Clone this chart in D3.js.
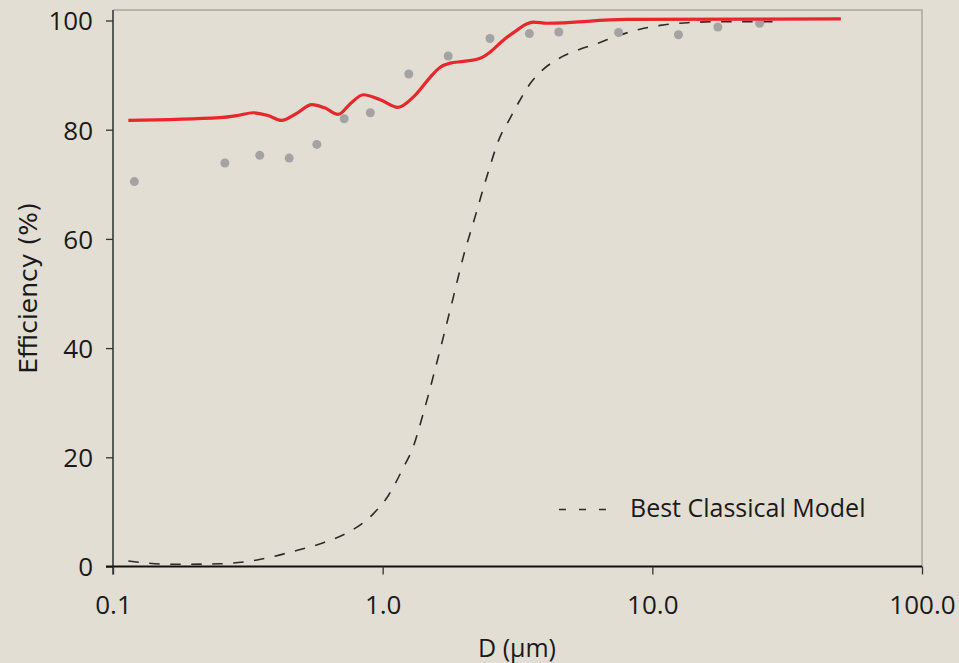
<!DOCTYPE html>
<html><head><meta charset="utf-8">
<script src="https://cdn.jsdelivr.net/npm/d3@7"></script>
<style>
html,body{margin:0;padding:0;background:#e3ded3;}
svg{display:block;}
</style></head>
<body>
<svg id="chart" width="959" height="663"></svg>
<script>
// Measured data (D in µm, efficiency in %)
const measuredD   = [0.12, 0.26, 0.35, 0.45, 0.57, 0.72, 0.9, 1.25, 1.75, 2.5, 3.5, 4.5, 7.5, 12.5, 17.5, 25];
const measuredEff = [70.5, 73.9, 75.3, 74.8, 77.3, 82.0, 83.1, 90.2, 93.5, 96.7, 97.6, 97.9, 97.8, 97.4, 98.8, 99.5];

// Fitted model (red line)
const modelD   = [0.114, 0.249, 0.29, 0.331, 0.375, 0.422, 0.48, 0.546, 0.61, 0.684, 0.76, 0.847, 0.98, 1.14, 1.30, 1.50, 1.63, 1.78, 1.99, 2.30, 2.50, 2.80, 3.14, 3.40, 3.62, 4.07, 7.98, 50];
const modelEff = [81.7, 82.2, 82.6, 83.1, 82.6, 81.7, 83.0, 84.6, 84.0, 82.8, 84.8, 86.4, 85.5, 84.1, 86.0, 89.6, 91.4, 92.2, 92.5, 93.1, 94.2, 96.4, 98.2, 99.3, 99.7, 99.5, 100.2, 100.3];

// Best classical model (dashed line)
const classicD   = [0.114, 0.164, 0.249, 0.342, 0.468, 0.606, 0.748, 0.921, 1.05, 1.19, 1.30, 1.41, 1.54, 1.68, 1.83, 1.99, 2.20, 2.43, 2.72, 2.94, 3.22, 3.52, 3.95, 4.45, 5.30, 6.33, 7.55, 9.0, 10.7, 13.5, 19.3, 27.9];
const classicEff = [1.0, 0.4, 0.5, 1.2, 2.8, 4.4, 6.3, 9.6, 13.0, 18.0, 22.0, 27.8, 34.8, 42.1, 49.4, 56.7, 64.0, 71.3, 78.6, 81.7, 85.3, 88.4, 91.1, 92.9, 94.6, 95.9, 97.3, 98.4, 99.1, 99.6, 99.8, 99.8];

const xTicks = [0.1, 1, 10, 100];
const yTicks = [0, 20, 40, 60, 80, 100];
const xLabel = "D (μm)";
const yLabel = "Efficiency (%)";
const legendLabel = "Best Classical Model";

const svg = d3.select("#chart");
const pLeft = 113, pRight = 922, pTop = 10, pBottom = 566.5;
const x = d3.scaleLog().domain([0.1, 100]).range([pLeft, pRight]);
const y = d3.scaleLinear().domain([0, 100]).range([pBottom, 20.5]);
const FONT = "Open Sans";

svg.append("rect").attr("width", 959).attr("height", 663).attr("fill", "#e3ded3");

// frame (top and right borders)
svg.append("path")
  .attr("d", `M${pLeft},${pTop}H${pRight}V${pBottom}`)
  .attr("fill", "none").attr("stroke", "#a9a6a0").attr("stroke-width", 1.5);

// y axis
const yAxis = svg.append("g").attr("transform", `translate(${pLeft},0)`)
  .call(d3.axisLeft(y).tickValues(yTicks).tickSize(7).tickSizeOuter(0).tickPadding(13).tickFormat(d3.format("d")));
yAxis.select(".domain").attr("stroke", "#5a5a5a").attr("stroke-width", 2)
  .attr("d", `M0,${pTop}V${pBottom + 8}`);
yAxis.selectAll(".tick line").attr("stroke", "#333").attr("stroke-width", 1.3);
yAxis.selectAll("text").attr("font-family", FONT).attr("font-size", 26).attr("fill", "#1a1a1a").attr("dy", "0.36em");

// x axis
const xAxis = svg.append("g").attr("transform", `translate(0,${pBottom})`)
  .call(d3.axisBottom(x).tickValues(xTicks).tickSize(8).tickSizeOuter(0).tickPadding(21).tickFormat(d3.format(".1f")));
xAxis.select(".domain").attr("stroke", "#111").attr("stroke-width", 2)
  .attr("d", `M${pLeft - 7},0H${pRight}`);
xAxis.selectAll(".tick line").attr("stroke", "#333").attr("stroke-width", 1.3);
xAxis.selectAll("text").attr("font-family", FONT).attr("font-size", 26).attr("fill", "#1a1a1a");

// dashed classical model
const line = d3.line().x(d => x(d[0])).y(d => y(d[1])).curve(d3.curveMonotoneX);
svg.append("path")
  .datum(classicD.map((d, i) => [d, classicEff[i]]))
  .attr("d", line).attr("fill", "none")
  .attr("stroke", "#2b2b2b").attr("stroke-width", 1.6).attr("stroke-dasharray", "10.5,10.5");

// measured points
svg.append("g").selectAll("circle")
  .data(measuredD.map((d, i) => [d, measuredEff[i]]))
  .join("circle")
  .attr("cx", d => x(d[0])).attr("cy", d => y(d[1])).attr("r", 4.5)
  .attr("fill", "#a3a3a3");

// red model line
svg.append("path")
  .datum(modelD.map((d, i) => [d, modelEff[i]]))
  .attr("d", line).attr("fill", "none")
  .attr("stroke", "#e8262b").attr("stroke-width", 3.2).attr("stroke-linejoin", "round");

// legend
svg.append("line").attr("x1", 559).attr("x2", 606).attr("y1", 509.5).attr("y2", 509.5)
  .attr("stroke", "#2b2b2b").attr("stroke-width", 1.6).attr("stroke-dasharray", "7,13");
svg.append("text").attr("x", 630).attr("y", 517.3)
  .attr("font-family", FONT).attr("font-size", 25).attr("fill", "#1a1a1a")
  .text(legendLabel);

// axis titles
svg.append("text").attr("x", 517).attr("y", 656.7).attr("text-anchor", "middle")
  .attr("font-family", FONT).attr("font-size", 25).attr("fill", "#1a1a1a")
  .text(xLabel);
svg.append("text").attr("transform", "translate(37,288) rotate(-90)").attr("text-anchor", "middle")
  .attr("font-family", "DejaVu Sans").attr("font-size", 25).attr("fill", "#1a1a1a")
  .text(yLabel);
</script>
</body></html>
